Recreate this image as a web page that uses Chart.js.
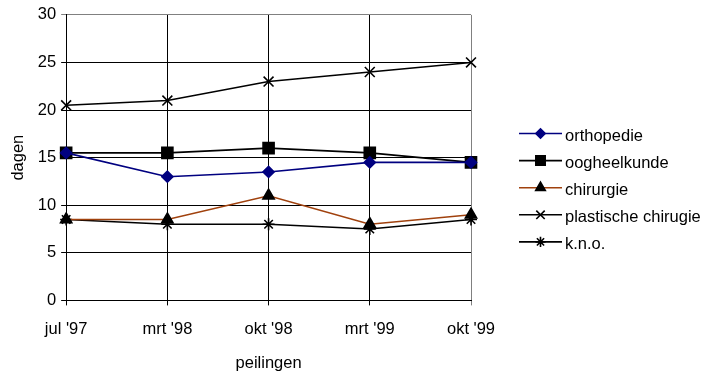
<!DOCTYPE html>
<html>
<head>
<meta charset="utf-8">
<script src="https://cdn.jsdelivr.net/npm/chart.js@4/dist/chart.umd.min.js"></script>
<style>
  html, body { margin: 0; padding: 0; background: #fff; }
  #wrap { width: 708px; height: 375px; }
</style>
</head>
<body>
<div id="wrap"><canvas id="chart" width="708" height="375"></canvas></div>
<script>
// peilingen
const labels = ["jul '97", "mrt '98", "okt '98", "mrt '99", "okt '99"];

// dagen per specialisme
const orthopedie = [15.5, 13, 13.5, 14.5, 14.5];
const oogheelkunde = [15.5, 15.5, 16, 15.5, 14.5];
const chirurgie = [8.5, 8.5, 11, 8, 9];
const plastischeChirugie = [20.5, 21, 23, 24, 25];
const kno = [8.5, 8, 8, 7.5, 8.5];

const yTicks = [0, 5, 10, 15, 20, 25, 30];

const FONT = 'Liberation Sans, Arial, sans-serif';
const FSIZE = 16.5;

function serie(label, data, color, style, radius, pointColor) {
    return {
        label: label,
        data: data,
        borderColor: color,
        borderWidth: 1.6,
        pointStyle: style,
        pointRadius: radius,
        pointBackgroundColor: pointColor,
        pointBorderColor: pointColor,
        pointBorderWidth: 1.6,
        fill: false,
        tension: 0
    };
}

const datasets = [
    serie('orthopedie', orthopedie, '#000080', 'rectRot', 5.5, '#000080'),
    serie('oogheelkunde', oogheelkunde, '#000000', 'rect', 7.8, '#000000'),
    serie('chirurgie', chirurgie, '#a0410d', 'triangle', 6.5, '#000000'),
    serie('plastische chirugie', plastischeChirugie, '#000000', 'crossRot', 7, '#000000'),
    serie('k.n.o.', kno, '#000000', 'star', 6, '#000000')
];

// legenda: lijn met marker, zoals in het origineel
const lineLegend = {
    id: 'lineLegend',
    afterDraw(chart) {
        const ctx = chart.ctx;
        const x0 = 519, x1 = 562, yStart = 133.5, step = 27.1;
        ctx.save();
        chart.data.datasets.forEach((ds, i) => {
            const y = yStart + i * step;
            ctx.strokeStyle = ds.borderColor;
            ctx.lineWidth = ds.borderWidth;
            ctx.beginPath();
            ctx.moveTo(x0, y);
            ctx.lineTo(x1, y);
            ctx.stroke();
            ctx.fillStyle = ds.pointBackgroundColor;
            ctx.strokeStyle = ds.pointBorderColor;
            ctx.lineWidth = ds.pointBorderWidth;
            Chart.helpers.drawPoint(ctx, {
                pointStyle: ds.pointStyle,
                radius: ds.pointRadius * 0.85,
                borderWidth: ds.pointBorderWidth,
                rotation: 0
            }, (x0 + x1) / 2, y);
            ctx.fillStyle = '#000';
            ctx.font = FSIZE + 'px ' + FONT;
            ctx.textBaseline = 'middle';
            ctx.textAlign = 'left';
            ctx.fillText(ds.label, x1 + 3, y + 3);
        });
        ctx.restore();
    }
};

new Chart(document.getElementById('chart'), {
    type: 'line',
    data: { labels: labels, datasets: datasets },
    plugins: [lineLegend],
    options: {
        responsive: false,
        animation: false,
        layout: { padding: { left: 9, right: 237, top: 1, bottom: 0 } },
        plugins: {
            legend: { display: false },
            tooltip: { enabled: false }
        },
        scales: {
            x: {
                type: 'category',
                offset: false,
                grid: {
                    color: c => (c.index === labels.length - 1 ? '#808080' : '#000'),
                    lineWidth: 1,
                    tickLength: 5
                },
                border: { color: '#000', width: 1 },
                ticks: {
                    color: '#000',
                    font: { family: FONT, size: FSIZE },
                    padding: 14,
                    maxRotation: 0
                },
                title: {
                    display: true,
                    text: 'peilingen',
                    color: '#000',
                    font: { family: FONT, size: FSIZE },
                    padding: { top: 0, bottom: 2 }
                }
            },
            y: {
                min: 0,
                max: 30,
                afterBuildTicks: axis => { axis.ticks = yTicks.map(v => ({ value: v })); },
                grid: {
                    color: c => (c.tick && c.tick.value === 30 ? '#808080' : '#000'),
                    lineWidth: 1,
                    tickLength: 5
                },
                border: { color: '#000', width: 1 },
                ticks: {
                    color: '#000',
                    font: { family: FONT, size: FSIZE },
                    padding: 5
                },
                title: {
                    display: true,
                    text: 'dagen',
                    color: '#000',
                    font: { family: FONT, size: FSIZE },
                    padding: { top: 0, bottom: 4 }
                }
            }
        }
    }
});
</script>
</body>
</html>
